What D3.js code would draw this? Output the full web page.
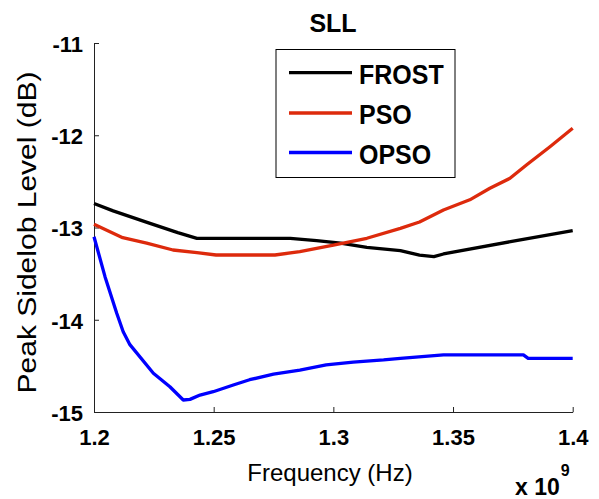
<!DOCTYPE html>
<html>
<head>
<meta charset="utf-8">
<script src="https://cdn.jsdelivr.net/npm/d3@7"></script>
<style>
  body { margin: 0; background: #fff; }
  svg { font-family: "Liberation Sans", Arial, sans-serif; }
</style>
</head>
<body>
<svg id="chart"></svg>
<script>
// frequencies in units of 1e9 Hz, values in dB
const frostFreq = [1.200, 1.208, 1.2234, 1.235, 1.243, 1.282, 1.293, 1.303, 1.314, 1.328, 1.336, 1.342, 1.346, 1.374, 1.400];
const frostSll  = [-12.74, -12.82, -12.955, -13.056, -13.117, -13.117, -13.143, -13.17, -13.215, -13.25, -13.30, -13.316, -13.287, -13.154, -13.034];

const psoFreq = [1.200, 1.212, 1.222, 1.233, 1.243, 1.251, 1.2756, 1.286, 1.300, 1.314, 1.328, 1.336, 1.346, 1.357, 1.3654, 1.3738, 1.3808, 1.3905, 1.400];
const psoSll  = [-12.966, -13.11, -13.17, -13.244, -13.273, -13.298, -13.298, -13.262, -13.19, -13.117, -13.009, -12.94, -12.81, -12.70, -12.575, -12.467, -12.32, -12.124, -11.925];

const opsoFreq = [1.200, 1.2046, 1.2095, 1.2122, 1.215, 1.2248, 1.2317, 1.2373, 1.2401, 1.2443, 1.2498, 1.2582, 1.265, 1.275, 1.286, 1.297, 1.3083, 1.321, 1.328, 1.346, 1.3794, 1.3814, 1.400];
const opsoSll  = [-13.10, -13.533, -13.93, -14.13, -14.27, -14.58, -14.726, -14.87, -14.863, -14.816, -14.78, -14.707, -14.65, -14.59, -14.545, -14.49, -14.46, -14.436, -14.418, -14.38, -14.38, -14.418, -14.418];

const seriesNames = ['FROST', 'PSO', 'OPSO'];
const seriesColors = ['#000000', '#dd2a0c', '#0000ff'];

const xTicks = [1.2, 1.25, 1.3, 1.35, 1.4];
const yTicks = [-11, -12, -13, -14, -15];

const width = 599, height = 499;
const margin = { top: 43, right: 26, bottom: 87, left: 94 };

const svg = d3.select('#chart')
  .attr('width', width)
  .attr('height', height);

const x = d3.scaleLinear()
  .domain([1.2, 1.4])
  .range([margin.left, width - margin.right - 0.3]);

const y = d3.scaleLinear()
  .domain([-15, -11])
  .range([height - margin.bottom, margin.top]);

// axes
const xAxis = svg.append('g')
  .attr('transform', `translate(0,${height - margin.bottom})`)
  .call(d3.axisBottom(x).tickValues(xTicks).tickSize(-5).tickSizeOuter(0).tickPadding(17)
    .tickFormat(d => String(d)));
xAxis.select('.domain').attr('stroke', '#222');
xAxis.selectAll('.tick line').attr('stroke', '#222');
xAxis.selectAll('text')
  .attr('font-size', 22).attr('font-weight', 'bold').attr('fill', '#000')
  .attr('font-family', '"Liberation Sans", Arial, sans-serif');

const yAxis = svg.append('g')
  .attr('transform', `translate(${margin.left},0)`)
  .call(d3.axisLeft(y).tickValues(yTicks).tickSize(-5).tickSizeOuter(0).tickPadding(11)
    .tickFormat(d => String(d)));
yAxis.select('.domain').attr('stroke', '#222');
yAxis.selectAll('.tick line').attr('stroke', '#222');
yAxis.selectAll('text')
  .attr('font-size', 22).attr('font-weight', 'bold').attr('fill', '#000')
  .attr('font-family', '"Liberation Sans", Arial, sans-serif')
  .attr('dy', '0.38em');

// lines
const line = d3.line()
  .x(d => x(d[0]))
  .y(d => y(d[1]));

const series = [
  d3.zip(frostFreq, frostSll),
  d3.zip(psoFreq, psoSll),
  d3.zip(opsoFreq, opsoSll)
];

svg.append('g')
  .selectAll('path')
  .data(series)
  .enter().append('path')
  .attr('d', line)
  .attr('fill', 'none')
  .attr('stroke', (d, i) => seriesColors[i])
  .attr('stroke-width', 3.3)
  .attr('stroke-linejoin', 'round');

// title
svg.append('text')
  .attr('x', 333).attr('y', 32)
  .attr('text-anchor', 'middle')
  .attr('font-size', 25).attr('font-weight', 'bold')
  .text('SLL');

// axis labels
svg.append('text')
  .attr('x', 330).attr('y', 481)
  .attr('text-anchor', 'middle')
  .attr('font-size', 24)
  .text('Frequency (Hz)');

svg.append('text')
  .attr('transform', 'translate(36,232.5) rotate(-90)')
  .attr('text-anchor', 'middle')
  .attr('font-size', 25)
  .attr('textLength', 322)
  .attr('lengthAdjust', 'spacingAndGlyphs')
  .text('Peak Sidelob Level (dB)');

// exponent
const expo = svg.append('text')
  .attr('x', 515).attr('y', 495)
  .attr('font-size', 23).attr('font-weight', 'bold');
expo.append('tspan').text('x 10');
expo.append('tspan').attr('font-size', 16).attr('dy', -19).attr('dx', 1).text('9');

// legend
const legend = svg.append('g');
legend.append('rect')
  .attr('x', 276).attr('y', 49.5)
  .attr('width', 179).attr('height', 128)
  .attr('fill', '#fff').attr('stroke', '#000').attr('stroke-width', 1);

const rowY = [72.7, 113, 152.5];
seriesNames.forEach((name, i) => {
  legend.append('line')
    .attr('x1', 289).attr('x2', 352)
    .attr('y1', rowY[i]).attr('y2', rowY[i])
    .attr('stroke', seriesColors[i]).attr('stroke-width', 3.3);
  legend.append('text')
    .attr('transform', `translate(359,${rowY[i] + 11}) scale(1,1.12)`)
    .attr('font-size', 25).attr('font-weight', 'bold')
    .text(name);
});
</script>
</body>
</html>
